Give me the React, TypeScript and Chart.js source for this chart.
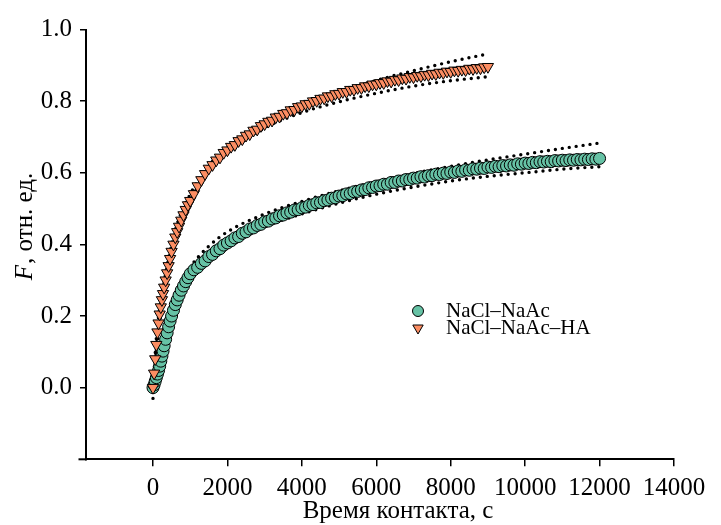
import React, { useEffect, useRef } from "react";
import { Chart, registerables } from "chart.js";

Chart.register(...registerables);

// ---- data ----
const greenTime = [0, 30, 60, 90, 120, 150, 180, 210, 240, 270, 300, 340, 380, 420, 460, 500, 550, 600, 650, 700, 760, 820, 880, 940,
  1000, 1100, 1200, 1300, 1400, 1500, 1600, 1700, 1800, 1900, 2000, 2100, 2200, 2300, 2400, 2500, 2600, 2700, 2800, 2900,
  3000, 3100, 3200, 3300, 3400, 3500, 3600, 3700, 3800, 3900, 4000, 4100, 4200, 4300, 4400, 4500, 4600, 4700, 4800, 4900,
  5000, 5100, 5200, 5300, 5400, 5500, 5600, 5700, 5800, 5900, 6000, 6100, 6200, 6300, 6400, 6500, 6600, 6700, 6800, 6900,
  7000, 7100, 7200, 7300, 7400, 7500, 7600, 7700, 7800, 7900, 8000, 8100, 8200, 8300, 8400, 8500, 8600, 8700, 8800, 8900,
  9000, 9100, 9200, 9300, 9400, 9500, 9600, 9700, 9800, 9900, 10000, 10100, 10200, 10300, 10400, 10500, 10600, 10700, 10800, 10900,
  11000, 11100, 11200, 11300, 11400, 11500, 11600, 11700, 11800, 11900, 12000];
const greenF = [0.000, 0.008, 0.018, 0.028, 0.038, 0.048, 0.060, 0.074, 0.088, 0.102, 0.117, 0.135, 0.153, 0.170, 0.186, 0.200, 0.216, 0.232, 0.245, 0.258, 0.272, 0.284, 0.296, 0.307,
  0.318, 0.329, 0.336, 0.347, 0.354, 0.366, 0.372, 0.382, 0.388, 0.398, 0.404, 0.410, 0.418, 0.422, 0.431, 0.435, 0.443, 0.446, 0.453, 0.456,
  0.463, 0.465, 0.471, 0.474, 0.480, 0.482, 0.488, 0.490, 0.496, 0.497, 0.502, 0.504, 0.509, 0.511, 0.516, 0.517, 0.522, 0.524, 0.529, 0.530,
  0.535, 0.536, 0.541, 0.542, 0.547, 0.548, 0.552, 0.553, 0.558, 0.559, 0.563, 0.564, 0.568, 0.568, 0.573, 0.573, 0.577, 0.577, 0.581, 0.581,
  0.585, 0.585, 0.589, 0.588, 0.592, 0.592, 0.596, 0.595, 0.599, 0.598, 0.602, 0.601, 0.605, 0.604, 0.608, 0.607, 0.611, 0.610, 0.613, 0.612,
  0.616, 0.615, 0.618, 0.617, 0.620, 0.619, 0.622, 0.621, 0.625, 0.624, 0.627, 0.626, 0.629, 0.628, 0.631, 0.630, 0.632, 0.631, 0.634, 0.633,
  0.635, 0.634, 0.636, 0.635, 0.637, 0.636, 0.638, 0.637, 0.639, 0.638, 0.640];

const orangeTime = [0, 30, 60, 90, 120, 150, 180, 210, 240, 270, 300, 340, 380, 420, 460, 500, 550, 600, 650, 700, 760, 820, 880, 940,
  1000, 1100, 1200, 1300, 1400, 1500, 1600, 1700, 1800, 1900, 2000, 2100, 2200, 2300, 2400, 2500, 2600, 2700, 2800, 2900,
  3000, 3100, 3200, 3300, 3400, 3500, 3600, 3700, 3800, 3900, 4000, 4100, 4200, 4300, 4400, 4500, 4600, 4700, 4800, 4900,
  5000, 5100, 5200, 5300, 5400, 5500, 5600, 5700, 5800, 5900, 6000, 6100, 6200, 6300, 6400, 6500, 6600, 6700, 6800, 6900,
  7000, 7100, 7200, 7300, 7400, 7500, 7600, 7700, 7800, 7900, 8000, 8100, 8200, 8300, 8400, 8500, 8600, 8700, 8800, 8900, 9000];
const orangeF = [0.000, 0.040, 0.080, 0.120, 0.155, 0.180, 0.205, 0.225, 0.245, 0.262, 0.280, 0.300, 0.320, 0.340, 0.360, 0.380, 0.400, 0.420, 0.435, 0.450, 0.467, 0.482, 0.497, 0.510,
  0.522, 0.541, 0.563, 0.580, 0.597, 0.612, 0.622, 0.635, 0.643, 0.656, 0.663, 0.673, 0.678, 0.689, 0.694, 0.704, 0.708, 0.718, 0.721, 0.731,
  0.736, 0.743, 0.746, 0.755, 0.757, 0.765, 0.767, 0.775, 0.776, 0.784, 0.786, 0.792, 0.793, 0.800, 0.801, 0.807, 0.808, 0.814, 0.814, 0.820,
  0.821, 0.826, 0.826, 0.832, 0.832, 0.837, 0.837, 0.842, 0.842, 0.847, 0.847, 0.851, 0.851, 0.856, 0.855, 0.860, 0.859, 0.864, 0.863, 0.868,
  0.867, 0.871, 0.870, 0.874, 0.873, 0.877, 0.876, 0.880, 0.879, 0.883, 0.882, 0.886, 0.885, 0.888, 0.887, 0.891, 0.890, 0.893, 0.892, 0.895, 0.896];

// model curves
const greenCurveTime = [0, 100, 300, 600, 1000, 1500, 2000, 3000, 4000, 5000, 6000, 7000, 8000, 9000, 10000, 11000, 12000];
const greenFit = [0, 0.03, 0.117, 0.232, 0.318, 0.366, 0.404, 0.463, 0.502, 0.535, 0.563, 0.585, 0.602, 0.616, 0.627, 0.635, 0.64];
const greenModelA = [0, 0.05, 0.14, 0.25, 0.335, 0.395, 0.435, 0.485, 0.52, 0.55, 0.575, 0.598, 0.618, 0.636, 0.652, 0.668, 0.683];
const greenModelB = [-0.03, 0.03, 0.13, 0.23, 0.31, 0.365, 0.4, 0.45, 0.485, 0.515, 0.54, 0.56, 0.577, 0.59, 0.6, 0.61, 0.617];

const orangeCurveTime = [0, 100, 300, 600, 1000, 1500, 2000, 3000, 4000, 5000, 6000, 7000, 8000, 9000];
const orangeFit = [0, 0.135, 0.28, 0.42, 0.522, 0.612, 0.665, 0.738, 0.787, 0.822, 0.848, 0.867, 0.882, 0.896];
const orangeModelA = [0, 0.15, 0.295, 0.44, 0.54, 0.62, 0.67, 0.735, 0.785, 0.825, 0.858, 0.885, 0.91, 0.932];
const orangeModelB = [0, 0.11, 0.265, 0.415, 0.52, 0.605, 0.655, 0.725, 0.768, 0.798, 0.822, 0.842, 0.857, 0.868];

const xTickValues = [0, 2000, 4000, 6000, 8000, 10000, 12000, 14000];
const yTickValues = [0, 0.2, 0.4, 0.6, 0.8, 1.0];

const seriesNames = ["NaCl–NaAc", "NaCl–NaAc–HA"];
const xTitle = "Время контакта, с";
const yTitleItalic = "F";
const yTitleRest = ", отн. ед.";

const GREEN = "#66c2a5";
const ORANGE = "#fc8d62";
const FONT = "'Liberation Serif', 'Times New Roman', serif";

const pts = (xs: number[], ys: number[]) => xs.map((x, i) => ({ x, y: ys[i] }));

const dotted = (xs: number[], ys: number[], order: number) => ({
  type: "scatter" as const,
  data: pts(xs, ys),
  showLine: true,
  pointRadius: 0,
  borderColor: "#000",
  borderWidth: 3.4,
  borderDash: [0, 7],
  borderCapStyle: "round" as const,
  cubicInterpolationMode: "monotone" as const,
  fill: false,
  order,
});

const solid = (xs: number[], ys: number[], order: number) => ({
  type: "scatter" as const,
  data: pts(xs, ys),
  showLine: true,
  pointRadius: 0,
  borderColor: "#000",
  borderWidth: 2,
  cubicInterpolationMode: "monotone" as const,
  fill: false,
  order,
});

const decorPlugin = {
  id: "decor",
  afterDraw(chart: any) {
    const ctx = chart.ctx as CanvasRenderingContext2D;
    const ca = chart.chartArea;
    ctx.save();
    // x axis extends a little left of the y axis
    ctx.strokeStyle = "#000";
    ctx.lineWidth = 2;
    ctx.beginPath();
    ctx.moveTo(ca.left - 7.5, ca.bottom);
    ctx.lineTo(ca.left, ca.bottom);
    ctx.stroke();

    // x title
    ctx.fillStyle = "#000";
    ctx.font = `25px ${FONT}`;
    ctx.textAlign = "center";
    ctx.textBaseline = "alphabetic";
    ctx.fillText(xTitle, 398, 518);

    // y title (rotated, italic F)
    ctx.save();
    ctx.translate(32, 227);
    ctx.rotate(-Math.PI / 2);
    ctx.font = `italic 25px ${FONT}`;
    const w1 = ctx.measureText(yTitleItalic).width;
    ctx.font = `25px ${FONT}`;
    const w2 = ctx.measureText(yTitleRest).width;
    const start = -(w1 + w2) / 2;
    ctx.textAlign = "left";
    ctx.font = `italic 25px ${FONT}`;
    ctx.fillText(yTitleItalic, start, 0);
    ctx.font = `25px ${FONT}`;
    ctx.fillText(yTitleRest, start + w1 + 1, 0);
    ctx.restore();

    // legend
    const lx = 418;
    const ly = [311, 328];
    ctx.lineWidth = 1;
    ctx.strokeStyle = "#000";
    ctx.fillStyle = GREEN;
    ctx.beginPath();
    ctx.arc(lx, ly[0], 5.5, 0, Math.PI * 2);
    ctx.fill();
    ctx.stroke();
    ctx.fillStyle = ORANGE;
    const r = 6;
    ctx.beginPath();
    ctx.moveTo(lx - r * 0.866, ly[1] - r * 0.5);
    ctx.lineTo(lx + r * 0.866, ly[1] - r * 0.5);
    ctx.lineTo(lx, ly[1] + r);
    ctx.closePath();
    ctx.fill();
    ctx.stroke();
    ctx.fillStyle = "#000";
    ctx.font = `21px ${FONT}`;
    ctx.textAlign = "left";
    ctx.textBaseline = "alphabetic";
    ctx.fillText(seriesNames[0], 446, 317);
    ctx.fillText(seriesNames[1], 446, 334);
    ctx.restore();
  },
};

export default function App() {
  const ref = useRef<HTMLCanvasElement | null>(null);
  useEffect(() => {
    if (!ref.current) return;
    const chart = new Chart(ref.current, {
      type: "scatter",
      data: {
        datasets: [
          {
            label: seriesNames[1],
            data: pts(orangeTime, orangeF),
            pointStyle: "triangle",
            rotation: 180,
            pointRadius: 6.5,
            pointBackgroundColor: ORANGE,
            pointBorderColor: "#000",
            pointBorderWidth: 1,
            showLine: false,
            order: 0,
          } as any,
          {
            label: seriesNames[0],
            data: pts(greenTime, greenF),
            pointStyle: "circle",
            pointRadius: 6,
            pointBackgroundColor: GREEN,
            pointBorderColor: "#000",
            pointBorderWidth: 1,
            showLine: false,
            order: 1,
          } as any,
          solid(orangeCurveTime, orangeFit, 2) as any,
          solid(greenCurveTime, greenFit, 3) as any,
          dotted(orangeCurveTime, orangeModelA, 4) as any,
          dotted(orangeCurveTime, orangeModelB, 5) as any,
          dotted(greenCurveTime, greenModelA, 6) as any,
          dotted(greenCurveTime, greenModelB, 7) as any,
        ],
      },
      options: {
        responsive: false,
        animation: false,
        layout: { padding: { left: 0, right: 47, top: 29.5, bottom: 0 } },
        plugins: { legend: { display: false }, tooltip: { enabled: false } },
        scales: {
          x: {
            type: "linear",
            min: -1800,
            max: 14000,
            afterBuildTicks: (scale: any) => {
              scale.ticks = xTickValues.map((v) => ({ value: v }));
            },
            afterFit: (scale: any) => {
              scale.height = 65.7;
            },
            ticks: {
              color: "#000",
              font: { family: FONT, size: 25 },
              padding: 7,
              maxRotation: 0,
              autoSkip: false,
              callback: (v: any) => String(v),
            },
            grid: { drawOnChartArea: false, drawTicks: true, tickLength: 7, color: "#000", lineWidth: 1.5 },
            border: { display: true, color: "#000", width: 2 },
          },
          y: {
            type: "linear",
            min: -0.2,
            max: 1.0,
            afterBuildTicks: (scale: any) => {
              scale.ticks = yTickValues.map((v) => ({ value: v }));
            },
            afterFit: (scale: any) => {
              scale.width = 86;
            },
            ticks: {
              color: "#000",
              font: { family: FONT, size: 25 },
              padding: 8,
              autoSkip: false,
              callback: (v: any) => Number(v).toFixed(1),
            },
            grid: { drawOnChartArea: false, drawTicks: true, tickLength: 6, color: "#000", lineWidth: 1.5 },
            border: { display: true, color: "#000", width: 2 },
          },
        },
      },
      plugins: [decorPlugin],
    } as any);
    return () => chart.destroy();
  }, []);
  return (
    <div style={{ position: "absolute", left: 0, top: 0, width: 721, height: 525, background: "#fff" }}>
      <canvas ref={ref} width={721} height={525} />
    </div>
  );
}
